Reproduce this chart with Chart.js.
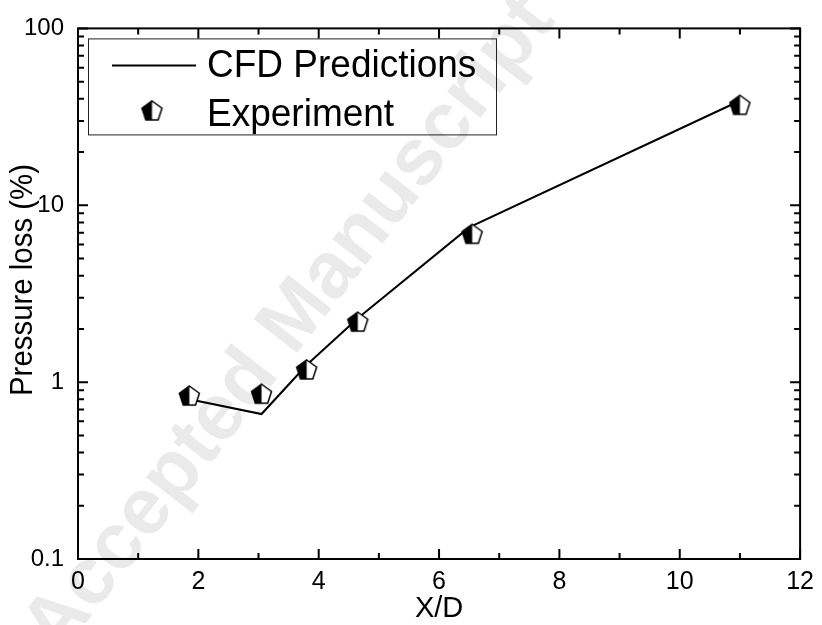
<!DOCTYPE html>
<html>
<head>
<meta charset="utf-8">
<script src="https://cdn.jsdelivr.net/npm/chart.js@4.4.1/dist/chart.umd.min.js"></script>
<style>
  body { margin: 0; background: #fff; }
  .chart-wrapper { width: 822px; height: 625px; }
</style>
</head>
<body>
<div class="chart-wrapper"><canvas id="myChart"></canvas></div>
<script>
// pressure loss vs. X/D
const cfdX = [1.85, 3.05, 3.8, 4.65, 6.5, 11.0];
const cfdY = [0.80, 0.66, 1.25, 2.3, 7.5, 39];
const expX = [1.85, 3.05, 3.8, 4.65, 6.55, 11.0];
const expY = [0.84, 0.86, 1.18, 2.2, 6.9, 37];
const yTicks = [0.1, 1, 10, 100];
const xStep = 2;

const FONT = '"Liberation Sans", Arial, sans-serif';

// pentagon marker, left half filled
const makePentagon = (r) => {
  const size = Math.ceil(r * 2 + 4);
  const c = document.createElement('canvas');
  c.width = size;
  c.height = size;
  const g = c.getContext('2d');
  const cx = size / 2;
  const cy = size / 2 + r * 0.095;
  g.beginPath();
  for (let i = 0; i < 5; i++) {
    const a = -Math.PI / 2 + i * 2 * Math.PI / 5;
    const px = cx + r * Math.cos(a);
    const py = cy + r * Math.sin(a);
    if (i === 0) g.moveTo(px, py); else g.lineTo(px, py);
  }
  g.closePath();
  g.fillStyle = '#fff';
  g.fill();
  g.save();
  g.clip();
  g.fillStyle = '#000';
  g.fillRect(0, 0, cx, size);
  g.restore();
  g.lineWidth = 1.5;
  g.strokeStyle = '#000';
  g.stroke();
  return c;
};
const pent = makePentagon(10.5);

const toPoints = (xs, ys) => xs.map((x, i) => ({ x, y: ys[i] }));

// text slightly taller than wide, like the original figure's lettering
const tallText = (ctx, text, x, y, sy) => {
  ctx.save();
  ctx.translate(x, y);
  ctx.scale(1, sy);
  ctx.fillText(text, 0, 0);
  ctx.restore();
};

const framePlugin = {
  id: 'frame',
  beforeDraw(chart) {
    const { ctx, width, height } = chart;
    ctx.save();
    ctx.fillStyle = '#fff';
    ctx.fillRect(0, 0, width, height);
    // watermark
    ctx.translate(290, 326);
    ctx.rotate(-52 * Math.PI / 180);
    ctx.font = 'bold 80px ' + FONT;
    ctx.fillStyle = '#eaeaea';
    ctx.textAlign = 'center';
    ctx.textBaseline = 'middle';
    ctx.fillText('Accepted Manuscript', 0, 0);
    ctx.restore();
  },
  afterDraw(chart) {
    const { ctx, chartArea: a, scales: { x, y } } = chart;
    ctx.save();
    ctx.strokeStyle = '#000';
    ctx.lineWidth = 2;
    ctx.strokeRect(a.left, a.top, a.right - a.left, a.bottom - a.top);

    // inward ticks on all four sides
    ctx.beginPath();
    const vTick = (px, len) => {
      ctx.moveTo(px, a.bottom); ctx.lineTo(px, a.bottom - len);
      ctx.moveTo(px, a.top); ctx.lineTo(px, a.top + len);
    };
    const hTick = (py, len) => {
      ctx.moveTo(a.left, py); ctx.lineTo(a.left + len, py);
      ctx.moveTo(a.right, py); ctx.lineTo(a.right - len, py);
    };
    x.ticks.forEach((t, i) => {
      vTick(x.getPixelForValue(t.value), 10);
      const next = x.ticks[i + 1];
      if (next) vTick(x.getPixelForValue((t.value + next.value) / 2), 6);
    });
    y.ticks.forEach((t) => {
      hTick(y.getPixelForValue(t.value), 10);
      if (t.value < y.max) {
        for (let k = 2; k <= 9; k++) hTick(y.getPixelForValue(t.value * k), 6);
      }
    });
    ctx.stroke();

    // y axis title
    ctx.save();
    ctx.translate(24, 280);
    ctx.rotate(-Math.PI / 2);
    ctx.font = '28px ' + FONT;
    ctx.fillStyle = '#000';
    ctx.textAlign = 'center';
    ctx.textBaseline = 'middle';
    ctx.scale(1.05, 1.1);
    ctx.fillText('Pressure loss (%)', 0, 0);
    ctx.restore();

    // legend box
    const lx = a.left + 10;
    const ly = a.top + 10;
    ctx.lineWidth = 1;
    ctx.strokeStyle = '#222';
    ctx.strokeRect(lx + 0.5, ly + 0.5, 408, 96);
    const ds = chart.data.datasets;
    ctx.font = '37px ' + FONT;
    ctx.fillStyle = '#000';
    ctx.textAlign = 'left';
    ctx.textBaseline = 'alphabetic';
    ctx.beginPath();
    ctx.lineWidth = 2;
    ctx.strokeStyle = '#000';
    ctx.moveTo(lx + 24, ly + 27);
    ctx.lineTo(lx + 108, ly + 27);
    ctx.stroke();
    tallText(ctx, ds[1].label, lx + 119, ly + 39, 1.05);
    ctx.drawImage(pent, lx + 64 - pent.width / 2, ly + 72 - pent.height / 2);
    tallText(ctx, ds[0].label, lx + 119, ly + 88, 1.05);
    ctx.restore();
  }
};

const ctx = document.getElementById('myChart').getContext('2d');
const chart = new Chart(ctx, {
  type: 'scatter',
  data: {
    datasets: [{
      label: 'Experiment',
      data: toPoints(expX, expY),
      pointStyle: pent,
      pointRadius: 10,
      showLine: false
    }, {
      label: 'CFD Predictions',
      data: toPoints(cfdX, cfdY),
      showLine: true,
      borderColor: '#000',
      borderWidth: 2,
      pointRadius: 0,
      tension: 0
    }]
  },
  options: {
    responsive: true,
    maintainAspectRatio: false,
    animation: false,
    layout: { padding: { top: 19, right: 15, left: 0, bottom: 0 } },
    plugins: { legend: { display: false }, tooltip: { enabled: false } },
    scales: {
      x: {
        type: 'linear',
        min: 0,
        max: 12,
        afterFit: (s) => { s.height = 66; },
        grid: { display: false, drawTicks: false },
        border: { display: false },
        ticks: {
          stepSize: xStep,
          autoSkip: false,
          padding: 8,
          color: '#000',
          font: { family: FONT, size: 25 }
        },
        title: {
          display: true,
          text: 'X/D',
          color: '#000',
          font: { family: FONT, size: 29, lineHeight: 1 },
          padding: { top: 0, bottom: 2 }
        }
      },
      y: {
        type: 'logarithmic',
        min: 0.1,
        max: 100,
        afterFit: (s) => { s.width = 78; },
        afterBuildTicks: (s) => { s.ticks = yTicks.map((v) => ({ value: v })); },
        grid: { display: false, drawTicks: false },
        border: { display: false },
        ticks: {
          autoSkip: false,
          padding: 14,
          color: '#000',
          font: { family: FONT, size: 24 },
          callback: (v) => String(v)
        }
      }
    }
  },
  plugins: [framePlugin]
});
</script>
</body>
</html>
